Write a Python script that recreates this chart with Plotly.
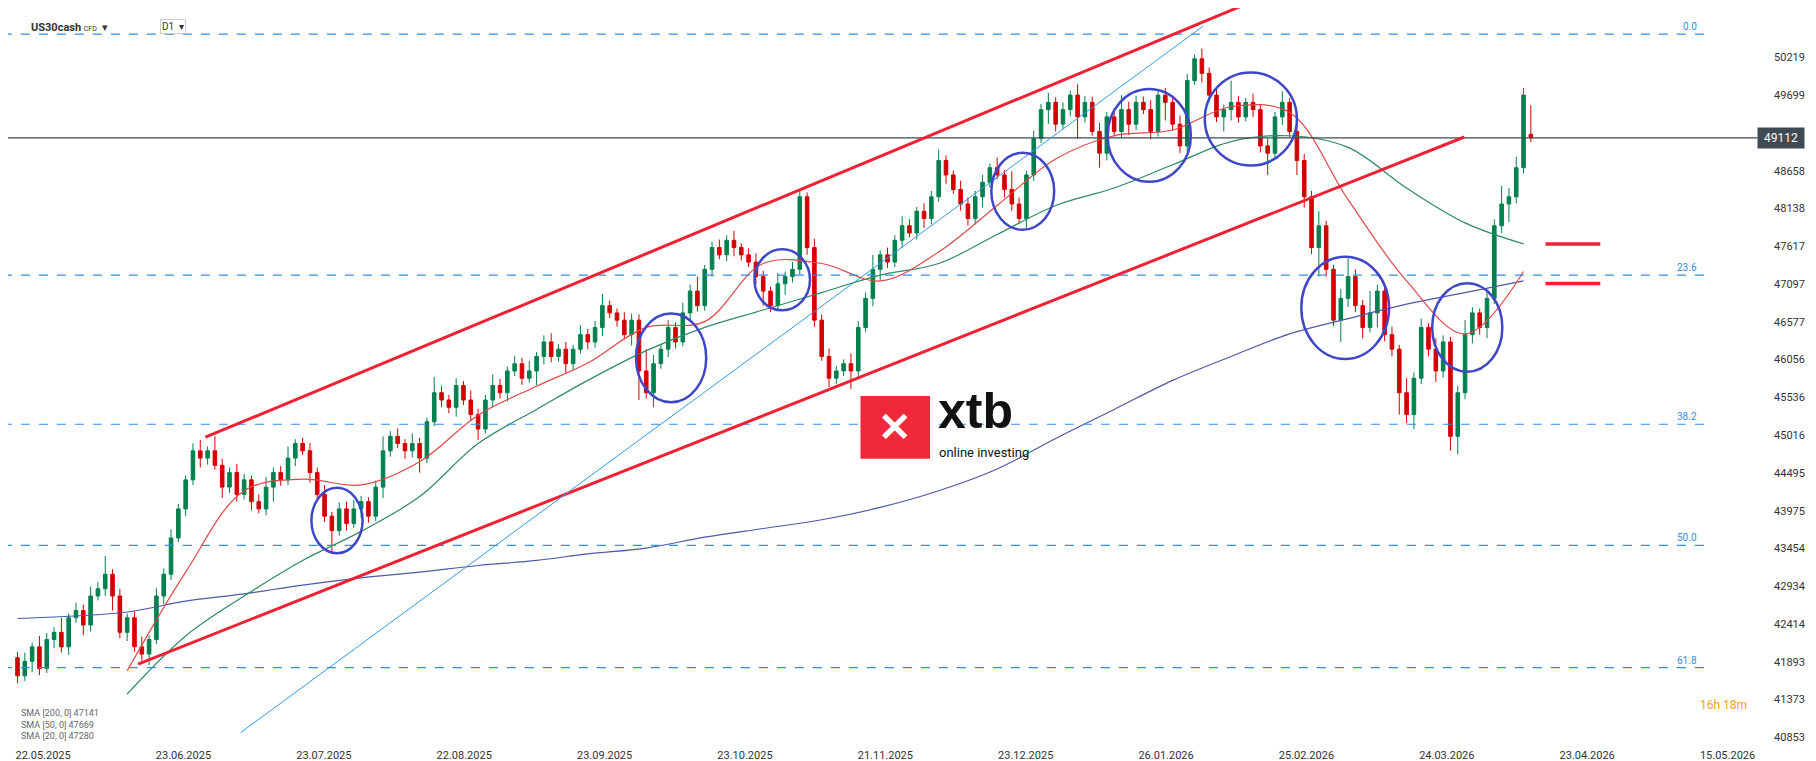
import plotly.graph_objects as go

# daily closes (points), one per candle
closes = [
    41700, 41900, 42100, 41800, 42200, 42300, 42100, 42500, 42600, 42400, 42800, 42900, 43100, 42800, 42300, 42500, 42100, 42000, 42200, 42800, 43100,
    43600, 44000, 44400, 44800, 44700, 44800, 44600, 44300, 44500, 44200,
    44400, 44100, 44000, 44300, 44500, 44400, 44700, 44900, 44800, 44500, 44200, 43900, 43700, 44000, 43800,
    44000, 44100, 43900, 44300, 44800, 45000, 44900, 44800, 44900, 44700, 45200, 45600, 45500, 45400, 45700,
    45500, 45300, 45100, 45500, 45700, 45600, 45900, 46000, 45800, 45900, 46100, 46300, 46100, 46200, 46000,
    46200, 46400, 46300, 46500, 46800, 46700, 46600, 46400, 46600, 45900, 45600, 46000, 46200, 46500, 46300,
    46700, 47000, 46800, 47300, 47600, 47500, 47700, 47600, 47500, 47400, 47200, 47000, 46800, 47100, 47200,
    47300, 48300, 47600, 46600, 46100, 45800, 45900, 46000, 45900, 46500,
    46900, 47300, 47500, 47400, 47700, 47900, 47800, 48100, 48000, 48300, 48800, 48600, 48400, 48200, 48000,
    48300, 48500, 48700, 48600, 48400, 48200, 48000, 48600, 49100, 49500, 49600, 49300, 49500, 49700, 49400,
    49600, 49200, 48900, 49400, 49200, 49500, 49300, 49600, 49500, 49200, 49700, 49600, 49300, 49000, 49900,
    50200, 50000, 49700, 49400, 49500, 49600, 49400, 49600, 49500, 49000, 48900, 49400, 49600, 49200, 48800,
    48300, 47600, 47900, 47300, 46600, 46900, 47200, 46800, 46500, 46700, 47000, 46400, 46200, 45600, 45300,
    45800, 46500, 46200, 45900, 46300, 45000, 45600, 46400, 46700, 46500, 46900, 47900, 48200, 48300, 48700, 49700,
    49112,
]
first_open = 41950
last_open = 49160

up_wick = [
    80, 120, 60, 150, 90, 70, 200, 60, 110, 80, 130, 90, 250, 70, 100, 60,
    90, 140, 60, 110, 80, 120, 70, 60, 100, 150, 60, 200, 90, 70, 120, 80,
    60, 100, 140, 70, 90, 160, 60, 80, 110, 70, 130, 60, 90, 100, 120, 80,
    60, 90, 200, 70, 110, 60, 140, 80, 60, 220, 90, 70, 100, 60, 130, 80,
    70, 150, 90, 60, 110, 80, 140, 60, 90, 120, 70, 100, 60, 130, 80, 90,
    160, 70, 60, 110, 90, 80, 300, 120, 60, 100, 70, 140, 90, 200, 60, 80,
    110, 70, 130, 60, 90, 120, 80, 60, 150, 70, 100, 90, 60, 120, 80, 110,
    70, 60, 140, 90, 80, 200, 60, 100, 70, 130, 90, 60, 110, 80, 150, 70,
    60, 120, 90, 80, 100, 60, 140, 70, 250, 90, 60, 110, 80, 130, 70, 100,
    60, 150, 90, 80, 120, 70, 60, 200, 110, 90, 80, 130, 60, 100, 70, 120,
    90, 60, 140, 80, 110, 70, 300, 90, 60, 120, 80, 100, 70, 150, 60, 110,
    90, 80, 200, 70, 60, 130, 250, 100, 80, 300, 90, 70, 110, 60, 200, 80,
    120, 60, 150, 90, 70, 100, 200, 80, 60, 110, 90, 250, 120, 150, 100, 400,
]
low_wick = [
    100, 70, 150, 90, 60, 120, 80, 110, 70, 140, 90, 60, 100, 200, 80, 120,
    70, 90, 150, 60, 110, 80, 60, 100, 70, 130, 90, 60, 150, 80, 100, 70,
    120, 60, 90, 200, 80, 70, 110, 60, 140, 90, 80, 300, 70, 100, 60, 120,
    90, 70, 150, 80, 60, 110, 90, 200, 70, 60, 100, 80, 130, 70, 90, 150,
    60, 100, 80, 120, 70, 90, 60, 200, 110, 80, 70, 130, 90, 60, 100, 80,
    120, 70, 90, 60, 150, 400, 80, 200, 70, 110, 90, 60, 130, 80, 70, 100,
    60, 90, 120, 80, 70, 110, 200, 90, 60, 150, 80, 70, 100, 90, 60, 120,
    80, 70, 250, 90, 60, 110, 150, 80, 70, 100, 60, 90, 130, 80, 70, 120,
    60, 90, 100, 80, 150, 70, 60, 110, 90, 70, 130, 80, 60, 200, 100, 70,
    90, 300, 80, 60, 200, 100, 70, 90, 150, 80, 60, 110, 70, 250, 90, 100,
    80, 60, 130, 90, 70, 200, 150, 80, 60, 100, 90, 300, 70, 110, 80, 200,
    150, 90, 400, 100, 80, 300, 120, 90, 150, 70, 200, 90, 100, 300, 120, 200,
    80, 100, 150, 90, 200, 250, 90, 120, 100, 150, 80, 100, 250, 90, 80, 60,
]

# moving averages sampled along the chart (candle index, value)
sma_x = [0, 15, 23, 31, 39, 47, 55, 63, 71, 78, 86, 94, 102, 110, 118, 126, 134, 142, 150, 158, 166, 174, 182, 190, 198, 206]
sma200 = [42490, 42580, 42730, 42830, 42950, 43050, 43130, 43220, 43290, 43380, 43460, 43610, 43730, 43850, 44020, 44250, 44550, 44970, 45370, 45770, 46100, 46410, 46620, 46820, 46980, 47140]
sma50 = [None, 41450, 42250, 42800, 43290, 43690, 44170, 44900, 45370, 45770, 46180, 46500, 46740, 46980, 47220, 47380, 47780, 48180, 48420, 48740, 49060, 49140, 48980, 48420, 47940, 47650]
sma20 = [None, 41770, 43130, 44250, 44410, 44330, 44650, 45290, 45690, 46010, 46500, 46580, 47380, 47380, 47140, 47540, 48180, 48820, 49140, 49220, 49540, 49460, 48260, 47140, 46410, 47270]

fib_levels = [50540, 47220, 45166, 43498, 41814]
fib_names = ["0.0", "23.6", "38.2", "50.0", "61.8"]

ytick_labels = ["40853", "41373", "41893", "42414", "42934", "43454", "43975", "44495", "45016",
                "45536", "46056", "46577", "47097", "47617", "48138", "48658", "49699", "50219"]
date_labels = ["22.05.2025", "23.06.2025", "23.07.2025", "22.08.2025", "23.09.2025", "23.10.2025",
               "21.11.2025", "23.12.2025", "26.01.2026", "25.02.2026", "24.03.2026", "23.04.2026", "15.05.2026"]

# highlighted swing areas: candle index, price, radius in candles, radius in points
circles = [(43.7, 43840, 3.5, 450), (89.4, 46080, 4.8, 610), (104.6, 47155, 3.8, 420),
           (137.5, 48375, 4.3, 530), (154.8, 49145, 5.7, 640), (168.7, 49370, 6.3, 640),
           (181.6, 46770, 6.0, 705), (198.3, 46500, 4.8, 610)]

n = min(len(closes), len(up_wick), len(low_wick))
opens = [first_open] + closes[:-1]
opens[-1] = last_open
idx = list(range(n))
highs = [max(opens[i], closes[i]) + up_wick[i] for i in idx]
lows = [min(opens[i], closes[i]) - low_wick[i] for i in idx]

fig = go.Figure()
fig.add_trace(go.Candlestick(
    x=idx, open=opens[:n], high=highs, low=lows, close=closes[:n],
    increasing=dict(line=dict(color="#00804f", width=1), fillcolor="#00804f"),
    decreasing=dict(line=dict(color="#d40000", width=1), fillcolor="#d40000"),
    whiskerwidth=0, showlegend=False, hoverinfo="skip"))

for vals, col in [(sma200, "#5058a8"), (sma50, "#2e8b62"), (sma20, "#e04848")]:
    fig.add_trace(go.Scatter(x=sma_x, y=vals, mode="lines", line=dict(color=col, width=1.2, shape="spline"),
                             showlegend=False, hoverinfo="skip", connectgaps=False))

shapes = []
for lv in fib_levels:
    shapes.append(dict(type="line", x0=-2, x1=231, y0=lv, y1=lv,
                       line=dict(color="#2f8fe6", width=1.2, dash="dash")))
# current price line
shapes.append(dict(type="line", x0=-2, x1=238, y0=49112, y1=49112, line=dict(color="#3f4a55", width=1.2)))
# channel and trend lines
shapes.append(dict(type="line", x0=25.7, y0=44987, x1=167.3, y1=50923, line=dict(color="#ee2233", width=3)))
shapes.append(dict(type="line", x0=16.5, y0=41862, x1=197.9, y1=49123, line=dict(color="#ee2233", width=3)))
shapes.append(dict(type="line", x0=30.5, y0=40917, x1=162.2, y1=50652, line=dict(color="#3399ee", width=1)))
# target markers
shapes.append(dict(type="line", x0=209, x1=216.5, y0=47650, y1=47650, line=dict(color="#ee2233", width=3.5)))
shapes.append(dict(type="line", x0=209, x1=216.5, y0=47105, y1=47105, line=dict(color="#ee2233", width=3.5)))
for cx, cy, rx, ry in circles:
    shapes.append(dict(type="circle", x0=cx - rx, x1=cx + rx, y0=cy - ry, y1=cy + ry,
                       line=dict(color="#4046c8", width=2.5)))
# xtb logo box
shapes.append(dict(type="rect", xref="paper", yref="paper", x0=0.4715, x1=0.51, y0=0.39, y1=0.475,
                   fillcolor="#f0283c", line=dict(width=0)))
fig.update_layout(shapes=shapes)

ann = []
for lv, nm in zip(fib_levels, fib_names):
    ann.append(dict(x=230, y=lv, text=nm, showarrow=False, xanchor="right", yanchor="bottom",
                    font=dict(size=10, color="#2f8fe6")))
ann += [
    dict(x=244.5, y=49112, text=" 49112 ", showarrow=False, xanchor="right", bgcolor="#3f4a55",
         font=dict(size=12, color="white"), borderpad=3),
    dict(xref="paper", yref="paper", x=0.0115, y=0.985, text="<b>US30cash</b> <span style='font-size:7px'>CFD</span>  ▾",
         showarrow=False, xanchor="left", font=dict(size=11, color="#333")),
    dict(xref="paper", yref="paper", x=0.084, y=0.985, text="D1  ▾", showarrow=False, xanchor="left",
         font=dict(size=10, color="#333"), bordercolor="#ccc", borderwidth=1),
    dict(xref="paper", yref="paper", x=0.4905, y=0.433, text="<b>✕</b>", showarrow=False,
         font=dict(size=40, color="white")),
    dict(xref="paper", yref="paper", x=0.513, y=0.455, text="<b>xtb</b>", showarrow=False, xanchor="left",
         font=dict(size=50, color="#111", family="Arial")),
    dict(xref="paper", yref="paper", x=0.514, y=0.398, text="online investing", showarrow=False, xanchor="left",
         font=dict(size=13, color="#111")),
    dict(xref="paper", yref="paper", x=0.935, y=0.045, text="16h 18m", showarrow=False, xanchor="left",
         font=dict(size=12, color="#f5a020")),
    dict(xref="paper", yref="paper", x=0.006, y=0.005, showarrow=False, xanchor="left", yanchor="bottom",
         align="left", text="SMA [200, 0] 47141<br>SMA [50, 0] 47669<br>SMA [20, 0] 47280",
         font=dict(size=9, color="#666")),
]
fig.update_layout(annotations=ann)

fig.update_layout(
    width=1816, height=761, paper_bgcolor="white", plot_bgcolor="white",
    margin=dict(l=0, r=8, t=0, b=22),
    font=dict(family="Roboto, Arial", size=11, color="#333"),
    xaxis=dict(range=[-1.3, 246], showgrid=False, zeroline=False, rangeslider=dict(visible=False),
               tickvals=[3.5 + 19.2 * k for k in range(len(date_labels))], ticktext=date_labels,
               ticks="", tickfont=dict(size=11, color="#333")),
    yaxis=dict(side="right", range=[40720, 50900], showgrid=False, zeroline=False,
               tickvals=[int(t) for t in ytick_labels], ticktext=ytick_labels,
               ticklabelposition="inside", ticks="", ticklabelstandoff=8,
               tickfont=dict(size=11, color="#333")),
)

fig.write_html("out.html")
